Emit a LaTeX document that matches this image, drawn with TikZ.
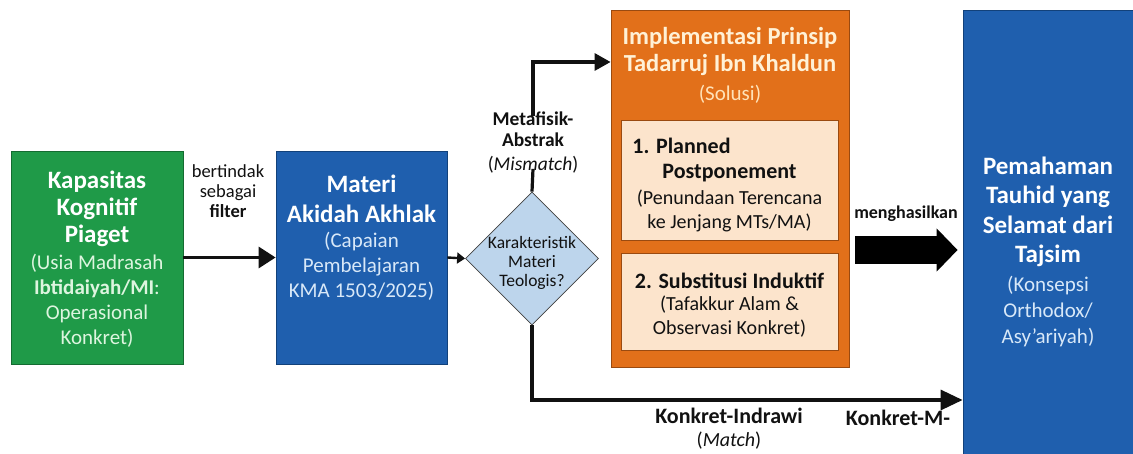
\documentclass[tikz,border=0pt]{standalone}
\usepackage{fontspec}
\setmainfont{Carlito}
\usetikzlibrary{shapes.geometric,arrows.meta,calc}
\definecolor{cgreen}{HTML}{1F9A48}
\definecolor{cgreenb}{HTML}{146B31}
\definecolor{cblue}{HTML}{1F5FAE}
\definecolor{cblueb}{HTML}{12417A}
\definecolor{corange}{HTML}{E2701A}
\definecolor{corangeb}{HTML}{9A4A10}
\definecolor{ccream}{HTML}{FCE4CC}
\definecolor{cdia}{HTML}{BDD5EC}
\definecolor{ctitle}{HTML}{FFF1D6}
\definecolor{csol}{HTML}{FFE2B8}
\definecolor{cgsub}{HTML}{DDF5DF}
\definecolor{cbsub}{HTML}{D8E8F8}
\definecolor{cink}{HTML}{111111}
\newcommand\fzA{\fontsize{25}{27}\selectfont\bfseries}
\newcommand\fzB{\fontsize{21}{25}\selectfont}
\begin{document}
\begin{tikzpicture}[x=1pt,y=-1pt,
  box/.style={draw, line width=0.8pt, inner sep=0, rectangle},
  txt/.style={align=center, inner sep=0},
  conn/.style={draw=cink, line width=3.2pt},
  arr/.style={conn, -{Triangle[length=16pt,width=17pt]}}]
\fill[white] (0,0) rectangle (1133,454);
\useasboundingbox (0,0) rectangle (1133,454);
% boxes
\node[box, fill=cgreen, draw=cgreenb, minimum width=172pt, minimum height=213pt] (kap) at (97,257.5) {};
\node[box, fill=cblue, draw=cblueb, minimum width=171pt, minimum height=213pt] (mat) at (361.5,257.5) {};
\node[box, fill=corange, draw=corangeb, minimum width=238pt, minimum height=357pt] (imp) at (730,188.5) {};
\node[box, fill=ccream, draw=corangeb, minimum width=217pt, minimum height=120pt] (pp) at (729.5,180) {};
\node[box, fill=ccream, draw=corangeb, minimum width=217pt, minimum height=97pt] (si) at (729.5,301.5) {};
\node[box, fill=cblue, draw=cblueb, minimum width=180pt, minimum height=460pt] (pem) at (1053,240) {};
\node[diamond, aspect=1, draw=black!75, line width=0.8pt, fill=cdia, minimum width=133pt, minimum height=133pt, inner sep=0] (dia) at (532,258.5) {};
% texts
\node[txt, text=white, font=\fzA] (kapT) at (97,208.5) {Kapasitas\\Kognitif\\Piaget};
\node[txt, text=cgsub, font=\fzB] (kapS) at (97,300.5) {(Usia Madrasah\\\textbf{Ibtidaiyah/MI}:\\Operasional\\Konkret)};
\node[txt, text=white, font=\fontsize{25}{30}\selectfont\bfseries] (matT) at (361.5,199) {Materi\\Akidah Akhlak};
\node[txt, text=cbsub, font=\fzB] (matS) at (361.5,266) {(Capaian\\Pembelajaran\\KMA 1503/2025)};
\node[txt, text=ctitle, font=\fontsize{24.5}{27}\selectfont\bfseries] (impT) at (730,51) {Implementasi Prinsip\\Tadarruj Ibn Khaldun};
\node[txt, text=csol, font=\fzB] (impS) at (730,94) {(Solusi)};
\node[txt, text=cink, font=\fontsize{22}{25}\selectfont\bfseries] (ppT) at (729.5,160) {1. Planned\hspace*{96pt}\\Postponement};
\node[txt, text=cink, font=\fontsize{20}{24}\selectfont] (ppS) at (729.5,211) {(Penundaan Terencana\\ke Jenjang MTs/MA)};
\node[txt, text=cink, font=\fontsize{22}{25}\selectfont\bfseries] (siT) at (729.5,281) {2. Substitusi Induktif};
\node[txt, text=cink, font=\fontsize{20}{24}\selectfont] (siS) at (729.5,317) {(Tafakkur Alam \&\\Observasi Konkret)};
\node[txt, text=white, font=\fontsize{25}{29.5}\selectfont\bfseries] (pemT) at (1048,212) {Pemahaman\\Tauhid yang\\Selamat dari\\Tajsim};
\node[txt, text=cbsub, font=\fontsize{21}{26}\selectfont] (pemS) at (1048,312) {(Konsepsi\\Orthodox/\\Asy’ariyah)};
\node[txt, text=cink, font=\fontsize{17.5}{19}\selectfont] (diaT) at (532,263) {Karakteristik\\Materi\\Teologis?};
% connector labels
\node[txt, text=cink, font=\fontsize{18.5}{20}\selectfont] (filt) at (228,191) {bertindak\\sebagai\\\textbf{filter}};
\node[txt, text=cink, font=\fontsize{19.5}{21}\selectfont] (meta) at (533,142) {\textbf{Metafisik-}\\\textbf{Abstrak}\\[3pt](\textit{Mismatch})};
\node[txt, text=cink, font=\fontsize{18}{20}\selectfont\bfseries] (meng) at (906,214) {menghasilkan};
\node[txt, text=cink, font=\fontsize{22}{23}\selectfont] (kind) at (729,429) {\textbf{Konkret-Indrawi}\\\fontsize{20}{23}\selectfont(\textit{Match})};
\node[txt, text=cink, font=\fontsize{22}{23}\selectfont\bfseries] (kmm) at (898,418) {Konkret-M-};
% connectors
\coordinate (ytop) at (0,62);
\coordinate (ybot) at (0,400);
\draw[conn, -{Triangle[length=17pt,width=21pt]}] (kap.east) -- (mat.west);
\draw[conn, line width=2.4pt, -{Triangle[length=8pt,width=11pt]}] (mat.east) -- (dia.west);
\draw[conn] (dia.north) -- ($(meta.south)+(0,-4)$);
\draw[arr] ($(meta.north)+(0,5)$) |- (imp.west |- ytop);
\draw[conn, -{Triangle[length=22pt,width=20pt]}] (dia.south) |- (pem.west |- ybot);
\draw[draw=black, line width=28pt, -{Triangle[length=21pt,width=42pt]}] ($(imp.east)+(6,61.5)$) -- ($(pem.west)+(-5,10)$);
\end{tikzpicture}
\end{document}
